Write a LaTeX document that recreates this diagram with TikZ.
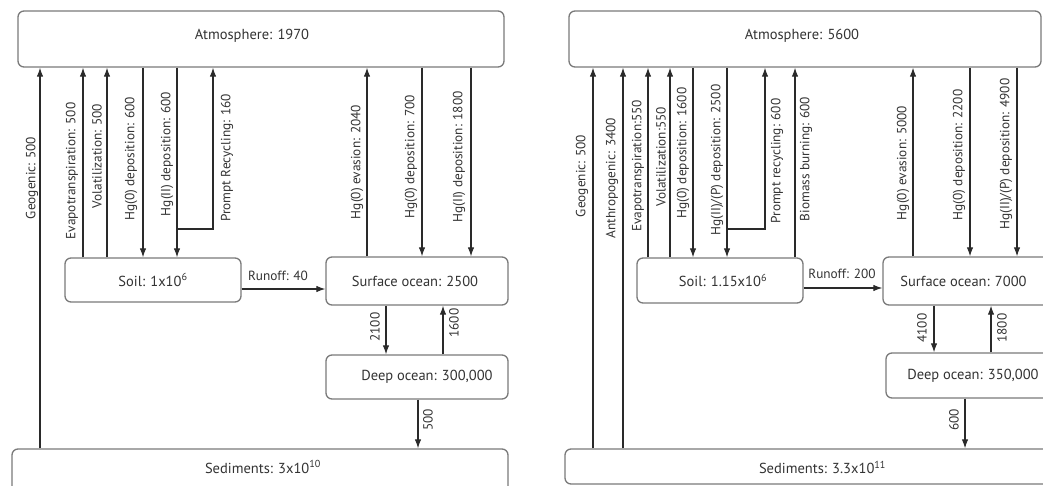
\documentclass[tikz,border=0pt]{standalone}
\usepackage{fontspec}
\setmainfont{PT Sans}
\usetikzlibrary{arrows.meta}
\definecolor{boxgray}{HTML}{7A7A7A}
\definecolor{linec}{HTML}{2A2A2A}
\definecolor{txt}{HTML}{333333}
\begin{document}
\begin{tikzpicture}[x=1pt,y=-1pt,
  box/.style={draw=boxgray, line width=1.3pt, rounded corners=6pt, fill=white, inner sep=0pt},
  boxtext/.style={font=\fontsize{14.5}{16}\selectfont, text=txt, inner sep=0pt},
  flow/.style={draw=linec, line width=1.1pt, -{Latex[length=9pt,width=6.5pt]}},
  plain/.style={draw=linec, line width=1.1pt},
  lab/.style={rotate=90, font=\fontsize{13.3}{15}\selectfont, text=txt, inner sep=0pt},
  hlab/.style={font=\fontsize{13.3}{15}\selectfont, text=txt, inner sep=0pt}]
\useasboundingbox (0,0) rectangle (1043,486);
\clip (0,0) rectangle (1043,486);

% ---------------- left panel ----------------
\node[box, minimum width=486pt, minimum height=56pt,
  label={[boxtext,xshift=-9pt,yshift=3pt]center:Atmosphere: 1970}] (atmL) at (261,39) {};
\node[box, minimum width=176pt, minimum height=44pt,
  label={[boxtext]center:Soil: 1x10\textsuperscript{6}}] (soilL) at (153,280) {};
\node[box, minimum width=182pt, minimum height=48pt,
  label={[boxtext,xshift=-2pt]center:Surface ocean: 2500}] (surfL) at (417,281) {};
\node[box, minimum width=182pt, minimum height=44pt,
  label={[boxtext,xshift=10pt]center:Deep ocean: 300,000}] (deepL) at (417,377) {};
\node[box, minimum width=496pt, minimum height=46pt,
  label={[boxtext,xshift=3pt,yshift=5pt]center:Sediments: 3x10\textsuperscript{10}}] (sedL) at (260,472) {};

\coordinate (gL) at (40,0);
\coordinate (evL) at (83,0);
\coordinate (voL) at (107,0);
\coordinate (h0L) at (143,0);
\coordinate (h2L) at (177,0);
\coordinate (prL) at (213,229);
\coordinate (prjL) at (177,229);
\coordinate (evaL) at (367,0);
\coordinate (d7L) at (422,0);
\coordinate (d18L) at (471,0);
\coordinate (dnL) at (386,0);
\coordinate (upL) at (443,0);
\coordinate (sdL) at (418,0);
\coordinate (roL) at (0,289);

\draw[flow] (sedL.north -| gL) -- (atmL.south -| gL);
\draw[flow] (soilL.north -| evL) -- (atmL.south -| evL);
\draw[flow] (soilL.north -| voL) -- (atmL.south -| voL);
\draw[flow] (atmL.south -| h0L) -- (soilL.north -| h0L);
\draw[flow] (atmL.south -| h2L) -- (soilL.north -| h2L);
\draw[flow] (prjL) -- (prL) -- (atmL.south -| prL);
\draw[flow] (surfL.north -| evaL) -- (atmL.south -| evaL);
\draw[flow] (atmL.south -| d7L) -- (surfL.north -| d7L);
\draw[flow] (atmL.south -| d18L) -- (surfL.north -| d18L);
\draw[flow] (soilL.east |- roL) -- (surfL.west |- roL);
\draw[flow] (surfL.south -| dnL) -- (deepL.north -| dnL);
\draw[flow] (deepL.north -| upL) -- (surfL.south -| upL);
\draw[flow] (deepL.south -| sdL) -- (sedL.north -| sdL);

\node[lab] (lgL) at (32,178) {Geogenic: 500};
\node[lab] (levL) at (72,171) {Evapotranspiration: 500};
\node[lab] (lvoL) at (97,156) {Volatilization: 500};
\node[lab] (lh0L) at (131,159) {Hg(0) deposition: 600};
\node[lab] (lh2L) at (167,154) {Hg(II) deposition: 600};
\node[lab] (lprL) at (227,158) {Prompt Recycling: 160};
\node[lab] (levaL) at (357,162) {Hg(0) evasion: 2040};
\node[lab] (ld7L) at (411,157) {Hg(0) deposition: 700};
\node[lab] (ld18L) at (459,157) {Hg(II) deposition: 1800};
\node[lab] (ldnL) at (375,327) {2100};
\node[lab] (lupL) at (454,323) {1600};
\node[lab] (lsdL) at (428,420) {500};
\node[hlab] (lroL) at (278,276) {Runoff: 40};

% ---------------- right panel ----------------
\node[box, minimum width=472pt, minimum height=56pt,
  label={[boxtext,xshift=-3pt,yshift=3pt]center:Atmosphere: 5600}] (atmR) at (805,39) {};
\node[box, minimum width=166pt, minimum height=45pt,
  label={[boxtext,xshift=3pt]center:Soil: 1.15x10\textsuperscript{6}}] (soilR) at (720,280.5) {};
\node[box, minimum width=167pt, minimum height=48pt,
  label={[boxtext,xshift=-3pt]center:Surface ocean: 7000}] (surfR) at (966.5,281) {};
\node[box, minimum width=164pt, minimum height=45pt,
  label={[boxtext,xshift=5pt]center:Deep ocean: 350,000}] (deepR) at (968,375.5) {};
\node[box, minimum width=485pt, minimum height=35pt,
  label={[boxtext,xshift=15pt,yshift=-1pt]center:Sediments: 3.3x10\textsuperscript{11}}] (sedR) at (807.5,466.5) {};

\coordinate (gR) at (593,0);
\coordinate (anR) at (623,0);
\coordinate (evR) at (648,0);
\coordinate (voR) at (670,0);
\coordinate (h0R) at (693,0);
\coordinate (h2R) at (727,0);
\coordinate (prR) at (765,229);
\coordinate (prjR) at (727,229);
\coordinate (bbR) at (795,0);
\coordinate (evaR) at (913,0);
\coordinate (d22R) at (970,0);
\coordinate (d49R) at (1017,0);
\coordinate (dnR) at (934,0);
\coordinate (upR) at (991,0);
\coordinate (sdR) at (965,0);
\coordinate (roR) at (0,288);

\draw[flow] (sedR.north -| gR) -- (atmR.south -| gR);
\draw[flow] (sedR.north -| anR) -- (atmR.south -| anR);
\draw[flow] (soilR.north -| evR) -- (atmR.south -| evR);
\draw[flow] (soilR.north -| voR) -- (atmR.south -| voR);
\draw[flow] (atmR.south -| h0R) -- (soilR.north -| h0R);
\draw[flow] (atmR.south -| h2R) -- (soilR.north -| h2R);
\draw[flow] (prjR) -- (prR) -- (atmR.south -| prR);
\draw[flow] (soilR.north -| bbR) -- (atmR.south -| bbR);
\draw[flow] (surfR.north -| evaR) -- (atmR.south -| evaR);
\draw[flow] (atmR.south -| d22R) -- (surfR.north -| d22R);
\draw[flow] (atmR.south -| d49R) -- (surfR.north -| d49R);
\draw[flow] (soilR.east |- roR) -- (surfR.west |- roR);
\draw[flow] (surfR.south -| dnR) -- (deepR.north -| dnR);
\draw[flow] (deepR.north -| upR) -- (surfR.south -| upR);
\draw[flow] (deepR.south -| sdR) -- (sedR.north -| sdR);

\node[lab] (lgR) at (582,176) {Geogenic: 500};
\node[lab] (lanR) at (612,178) {Anthropogenic: 3400};
\node[lab] (levR) at (638,166) {Evapotranspiration:550};
\node[lab] (lvoR) at (661,157) {Volatilization:550};
\node[lab] (lh0R) at (683,153) {Hg(0) deposition: 1600};
\node[lab] (lh2R) at (717,160) {Hg(II)/(P) deposition: 2500};
\node[lab] (lprR) at (777,161) {Prompt recycling: 600};
\node[lab] (lbbR) at (806,159) {Biomass burning: 600};
\node[lab] (levaR) at (903,163) {Hg(0) evasion: 5000};
\node[lab] (ld22R) at (959,155) {Hg(0) deposition: 2200};
\node[lab] (ld49R) at (1006,154) {Hg(II)/(P) deposition: 4900};
\node[lab] (ldnR) at (922,328) {4100};
\node[lab] (lupR) at (1002,328) {1800};
\node[lab] (lsdR) at (954,420) {600};
\node[hlab] (lroR) at (842,274) {Runoff: 200};
\end{tikzpicture}
\end{document}
